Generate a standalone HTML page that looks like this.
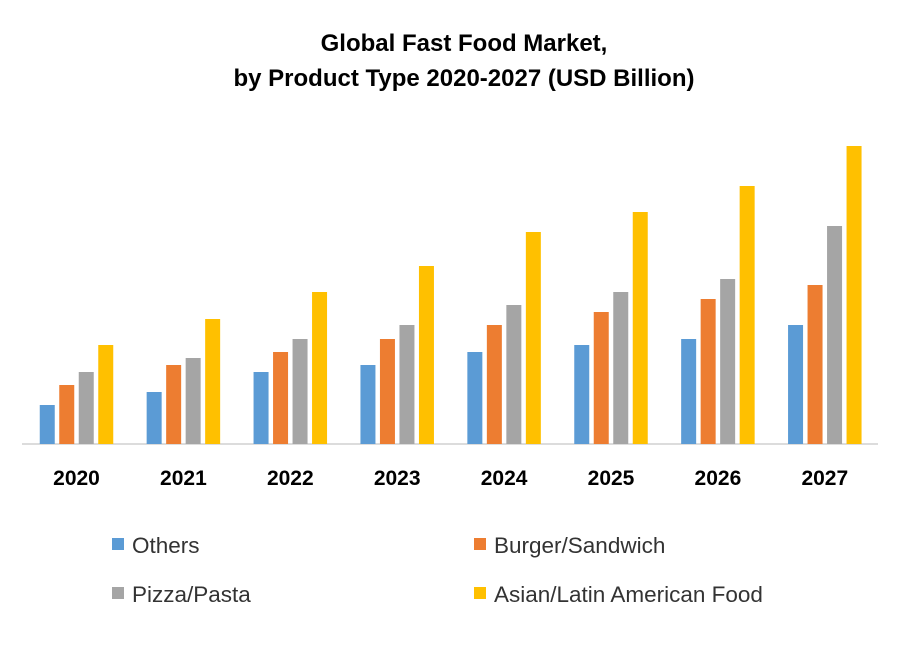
<!DOCTYPE html>
<html><head><meta charset="utf-8"><style>
body{margin:0;background:#fff;width:900px;height:640px;overflow:hidden;font-family:"Liberation Sans",sans-serif}
</style></head><body>
<svg id="c" width="900" height="640" xmlns="http://www.w3.org/2000/svg">
<text x="464" y="51" text-anchor="middle" font-size="24" font-weight="bold" fill="#000">Global Fast Food Market,</text>
<text x="464" y="86" text-anchor="middle" font-size="24" font-weight="bold" fill="#000">by Product Type 2020-2027 (USD Billion)</text>
<line x1="22" y1="444" x2="878" y2="444" stroke="#d0d0d0" stroke-width="1.5"/>
<g id="bars"></g>
<g id="xl"></g>
<g id="legend"></g>
</svg>
<script>
const categories=["2020","2021","2022","2023","2024","2025","2026","2027"];
const seriesNames=["Others","Burger/Sandwich","Pizza/Pasta","Asian/Latin American Food"];
const others=[39,52,72,79,92,99,105,119];
const burger=[59,79,92,105,119,132,145,159];
const pizza=[72,86,105,119,139,152,165,218];
const asian=[99,125,152,178,212,232,258,298];
const colors=["#5b9bd5","#ed7d31","#a5a5a5","#ffc000"];
const series=[others,burger,pizza,asian];
const NS="http://www.w3.org/2000/svg";
const baseY=444, x0=76.5, step=106.9, barW=15, barStep=19.5;
const yScale=v=>baseY-v;
const xCenter=i=>x0+i*step;
const bars=document.getElementById('bars');
series.forEach((s,si)=>{
  s.forEach((v,i)=>{
    const r=document.createElementNS(NS,'rect');
    const x=xCenter(i)-2*barStep+si*barStep+(barStep-barW)/2;
    r.setAttribute('x',x);r.setAttribute('y',yScale(v));
    r.setAttribute('width',barW);r.setAttribute('height',baseY-yScale(v));
    r.setAttribute('fill',colors[si]);
    
    
    bars.appendChild(r);
  });
});
const xl=document.getElementById('xl');
categories.forEach((c,i)=>{
  const t=document.createElementNS(NS,'text');
  t.setAttribute('x',xCenter(i));t.setAttribute('y',485);
  t.setAttribute('text-anchor','middle');t.setAttribute('font-size','21');t.setAttribute('font-weight','bold');
  t.textContent=c;
  
  
  xl.appendChild(t);
});
const lg=document.getElementById('legend');
const lpos=[[112,546],[474,546],[112,595],[474,595]];
seriesNames.forEach((n,i)=>{
  const g=document.createElementNS(NS,'g');
  
  
  const r=document.createElementNS(NS,'rect');
  r.setAttribute('x',lpos[i][0]);r.setAttribute('y',lpos[i][1]-8);r.setAttribute('width',12);r.setAttribute('height',12);
  r.setAttribute('fill',colors[i]);
  const t=document.createElementNS(NS,'text');
  t.setAttribute('x',lpos[i][0]+20);t.setAttribute('y',lpos[i][1]+7);t.setAttribute('font-size','22.5');t.setAttribute('fill','#333');
  t.textContent=n;
  g.appendChild(r);g.appendChild(t);lg.appendChild(g);
});
</script>
</body></html>
